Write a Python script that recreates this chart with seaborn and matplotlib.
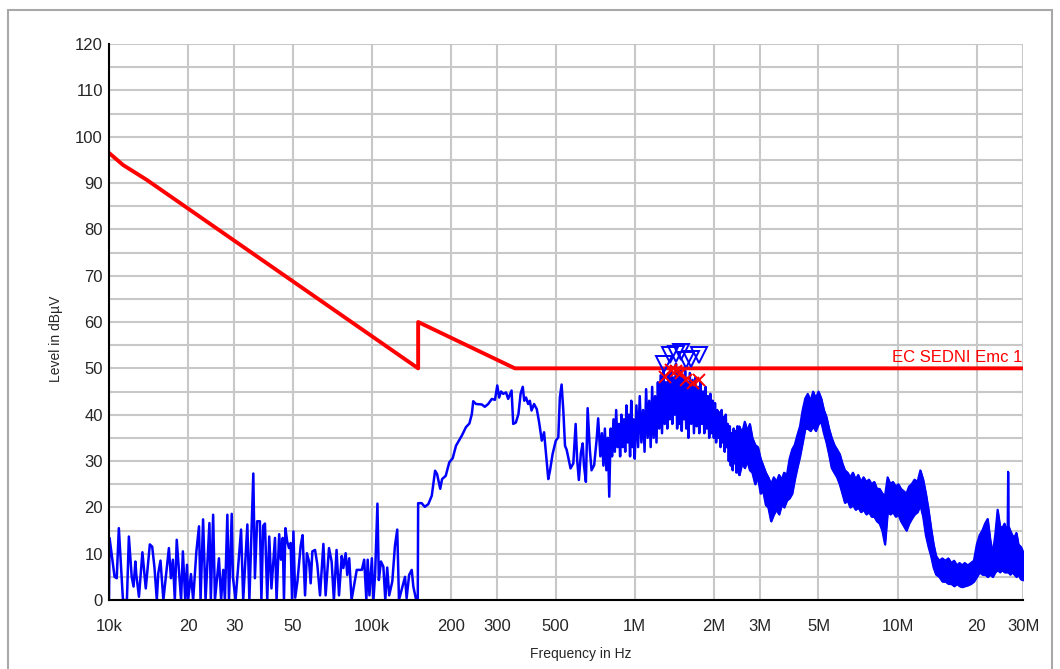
import numpy as np
import pandas as pd
import seaborn as sns
import matplotlib.pyplot as plt
from matplotlib.patches import Rectangle
from matplotlib.ticker import FixedLocator, FixedFormatter, MultipleLocator
import matplotlib.transforms as mtransforms

# limit line (Hz, dBuV)
limit_hz = [10e3, 11.3e3, 13.9e3, 150e3, 150e3, 350e3, 30e6]
limit_db = [96.5, 93.9, 90.7, 50.0, 60.0, 50.0, 50.0]

# scan 10k - 150k, noise floor spikes (kHz, dBuV)
low_khz = [10.0, 10.05, 10.5, 10.7, 10.9, 11.3, 11.7, 11.9, 12.2, 12.4, 12.6, 12.7, 13.0, 13.4, 13.8,
           14.3, 14.6, 14.9, 15.2, 15.4, 15.7, 16.1, 16.9, 17.2, 17.5, 17.8, 18.1, 18.8, 19.1, 19.5,
           19.8, 20.0, 20.5, 20.9, 21.5, 22.0, 22.3, 22.8, 23.3, 24.1, 24.4, 24.9, 25.3, 26.2, 26.7,
           27.2, 27.6, 28.2, 28.6, 29.3, 29.6, 30.3, 31.8, 32.4, 33.6, 34.2, 35.4, 35.9, 36.6, 37.5,
           38.0, 38.6, 39.2, 40.0, 40.7, 41.5, 42.8, 43.4, 44.4, 45.1, 45.8, 46.3, 46.9, 47.6, 48.4,
           49.1, 49.7, 50.3, 51.1, 52.1, 53.6, 54.5, 55.7, 56.6, 57.7, 58.5, 59.4, 60.8, 62.0, 63.5,
           65.4, 66.7, 68.7, 70.3, 71.7, 73.4, 75.0, 76.8, 77.9, 79.5, 80.6, 82.0, 83.7, 87.6, 91.6,
           93.5, 95.3, 96.4, 97.9, 100.0, 101.4, 102.9, 105.0, 106.3, 108.3, 110.6, 112.5, 114.4, 116.4,
           119.6, 122.4, 124.9, 126.8, 133.7, 135.6, 138.6, 141.8, 143.8, 146.9, 149.5]
low_db = [0, 13.4, 5, 4.7, 15.5, 0, 0, 13.7, 5, 2.9, 8.3, 5.5, 0.7, 10.3, 2.5,
          12, 11.5, 6.9, 0, 5.8, 8.5, 0, 11.2, 4.7, 8.7, 0, 13, 0, 10.5, 0,
          7.6, 0, 5.6, 0, 10.5, 15.9, 0, 17.4, 0, 16.6, 0, 18.4, 0, 9, 0,
          6.5, 0, 18.4, 0, 18.6, 5, 0, 15.2, 0, 16.3, 0, 27.3, 4.7, 17, 17,
          0, 16, 16.5, 0, 13.7, 2.5, 13.4, 0, 14.2, 8.7, 13.4, 0, 15.5, 12.7, 11.2,
          12.3, 0, 14.8, 0.5, 4, 11.7, 14, 1, 10.1, 8.3, 3.6, 10.5, 10.8, 7.7, 1,
          12.1, 1, 11.2, 8.3, 0, 10.8, 1, 9.5, 6.9, 10.1, 5.4, 9, 0, 6.5, 6.5,
          8.7, 0, 8.7, 1, 9, 0, 5.6, 20.8, 4.3, 8.3, 7.2, 0, 7, 1,
          4, 11.7, 15.2, 0, 5, 0.4, 5.4, 6.5, 2.9, 0.4, 0]

# scan 150k - 730k (kHz, dBuV)
mid_khz = [150.0, 154.7, 159, 164, 169, 174, 177, 182, 185, 191, 197, 203, 209, 220, 228,
           235, 240, 243, 249, 262, 269, 277, 286, 294, 300, 305, 310, 316, 324, 330,
           340, 345, 353, 361, 368, 375, 380, 386, 393, 399, 405, 414, 424, 433, 443,
           452, 460, 469, 476, 487, 501, 512, 519, 527, 535, 543, 551, 558, 570, 584,
           596, 604, 613, 624, 634, 641, 652, 662, 675, 685, 701, 716, 726]
mid_db = [20.9, 20.9, 20.1, 20.7, 22.5, 27.9, 27.2, 24, 26.1, 26.8, 29.7, 30.6, 33.3, 35.5, 37.3,
          38.1, 40.1, 42.9, 42.3, 42.2, 41.7, 42.3, 43.4, 43.2, 46.3, 43.7, 45, 44.5, 44.8, 43.4,
          45.2, 38, 38.3, 40.1, 44.5, 46, 43, 43.7, 42.3, 43, 40.9, 42.3, 41.2, 38.3, 34.4,
          36.2, 31.5, 26.1, 27.9, 31.5, 34.4, 35.1, 43.7, 46.5, 40.9, 33.3, 32.4, 30.9, 28.4, 29.5,
          38, 30.2, 25.9, 31.7, 33.8, 29.1, 25.5, 41.4, 32.4, 28, 29.1, 34.5, 39.2]

# scan 740k - 2.5M, dense spikes (MHz, dBuV)
peak_mhz = [0.740, 0.750, 0.760, 0.770, 0.780, 0.790, 0.800, 0.810, 0.820, 0.830, 0.840, 0.850,
            0.860, 0.870, 0.880, 0.890, 0.900, 0.910, 0.920, 0.930, 0.940, 0.950, 0.960, 0.970,
            0.980, 0.990, 1.000, 1.015, 1.030, 1.045, 1.060, 1.075, 1.090, 1.105, 1.120, 1.135,
            1.150, 1.165, 1.180, 1.195, 1.210, 1.225, 1.240, 1.255, 1.270, 1.285, 1.300, 1.315,
            1.330, 1.345, 1.360, 1.375, 1.390, 1.405, 1.420, 1.435, 1.450, 1.465, 1.480, 1.495,
            1.510, 1.525, 1.540, 1.555, 1.570, 1.585, 1.600, 1.620, 1.640, 1.660, 1.680, 1.700,
            1.720, 1.740, 1.760, 1.780, 1.800, 1.820, 1.840, 1.860, 1.880, 1.900, 1.920, 1.940,
            1.960, 1.980, 2.000, 2.020, 2.040, 2.060, 2.080, 2.100, 2.120, 2.140, 2.160, 2.180,
            2.200, 2.220, 2.240, 2.260, 2.280, 2.300, 2.320, 2.340, 2.360, 2.380, 2.400, 2.420,
            2.440, 2.460, 2.480, 2.500]
peak_db = [31, 36, 29, 37, 28, 35, 22.3, 37, 31, 39, 32, 41,
           33, 38, 31, 40, 33, 39, 32, 42, 34, 40, 31, 43,
           33, 39, 30.5, 42, 33, 44, 34, 41, 32, 45.5, 35, 43,
           33, 46, 35, 44, 34, 47, 37, 48.5, 36, 50, 38, 47,
           37, 49, 39, 50.5, 38, 48, 40, 51, 37, 49.5, 38, 50,
           36.5, 48, 39, 49.5, 37, 47, 35, 49, 38, 47.5, 36, 48,
           37.5, 46, 36, 47, 38, 45, 36, 46, 37, 44, 35, 44.5,
           36, 43, 35, 42.5, 34, 41, 35, 40.5, 33, 41, 34, 39.5,
           32, 40, 33, 38, 30, 37.5, 29, 36, 28, 37, 29.5, 36.5,
           27.5, 37.5, 28, 27]

# scan 2.5M - 30M, envelope of the dense band (MHz, dBuV)
band_mhz = [2.50, 2.56, 2.62, 2.68, 2.74, 2.80, 2.87, 2.94, 3.01, 3.08, 3.15, 3.22, 3.30, 3.38,
            3.46, 3.54, 3.62, 3.70, 3.79, 3.88, 3.97, 4.06, 4.15, 4.25, 4.35, 4.45, 4.55, 4.66,
            4.77, 4.88, 5.00, 5.12, 5.24, 5.36, 5.48, 5.61, 5.74, 5.88, 6.02, 6.16, 6.30, 6.45,
            6.60, 6.76, 6.92, 7.08, 7.25, 7.42, 7.60, 7.78, 7.96, 8.15, 8.34, 8.54, 8.74, 8.95,
            9.16, 9.38, 9.60, 9.83, 10.06, 10.3, 10.55, 10.8, 11.05, 11.3, 11.6, 11.9, 12.2, 12.5,
            12.8, 13.1, 13.4, 13.7, 14.0, 14.4, 14.8, 15.2, 15.6, 16.0, 16.4, 16.8, 17.2, 17.6,
            18.0, 18.5, 19.0, 19.5, 20.0, 20.5, 21.0, 21.5, 22.0, 22.5, 23.0, 23.5, 24.0, 24.5,
            25.0, 25.5, 26.0, 26.2, 26.3, 26.4, 26.8, 27.3, 27.8, 28.3, 28.8, 29.4, 30.0]
band_top = [37.5, 36.0, 38.5, 36.5, 38.0, 35.0, 33.5, 33.0, 30.5, 29.0, 27.5, 26.5, 25.0, 26.5,
            25.5, 27.0, 26.0, 27.5, 27.0, 30.5, 32.5, 33.5, 35.5, 37.5, 41.0, 43.5, 44.5, 43.0,
            45.0, 43.5, 45.0, 43.5, 41.0, 39.5, 37.0, 35.0, 33.5, 32.5, 31.5, 29.5, 28.0, 27.5,
            26.5, 27.5, 26.0, 27.0, 25.5, 26.5, 25.5, 26.0, 25.0, 25.5, 24.0, 24.0, 23.0, 22.5,
            26.5, 25.0, 25.5, 24.5, 25.0, 24.0, 23.5, 23.0, 24.5, 25.0, 26.0, 25.5, 28.0, 26.0,
            23.0, 19.5, 15.5, 12.0, 9.5, 8.5, 9.0, 8.5, 9.0, 8.0, 8.5, 7.5, 8.0, 7.5,
            8.0, 7.5, 8.0, 8.5, 12.0, 14.0, 15.0, 16.5, 17.5, 13.0, 10.0, 14.0, 19.5, 16.0,
            15.5, 16.5, 15.0, 16.0, 27.7, 16.0, 15.0, 14.0, 13.5, 14.5, 12.0, 11.5, 10.5]
band_bot = [27.0, 29.5, 28.5, 30.0, 28.0, 27.5, 25.0, 26.5, 23.0, 23.5, 20.5, 20.0, 17.0, 18.5,
            19.5, 18.5, 20.5, 20.0, 21.5, 22.0, 23.0, 26.0, 28.5, 31.0, 34.0, 37.0, 37.0, 36.5,
            37.5, 36.5, 38.0, 38.5, 36.0, 34.0, 31.5, 28.5, 27.5, 26.5, 25.0, 23.0, 21.0, 21.5,
            20.0, 20.5, 19.5, 20.0, 19.0, 19.5, 18.5, 19.0, 18.0, 18.0, 17.0, 16.5, 15.0, 12.0,
            19.0, 18.5, 19.0, 18.0, 18.5, 17.0, 16.0, 15.0, 16.5, 17.5, 18.5, 19.0, 20.5, 18.0,
            14.0, 11.5, 9.5, 7.0, 5.5, 5.0, 4.0, 4.0, 3.5, 3.5, 3.0, 3.5, 3.0, 2.8,
            3.0, 3.2, 3.5, 4.0, 5.0, 6.0, 5.5, 5.5, 5.0, 5.5, 5.0, 6.0, 6.5, 6.0,
            6.5, 6.0, 6.0, 6.0, 6.0, 6.0, 5.5, 6.0, 5.5, 5.0, 5.5, 4.5, 4.3]

# peak markers (MHz, dBuV)
pk_mhz = [1.29, 1.36, 1.43, 1.50, 1.57, 1.64, 1.75]
pk_db = [51.0, 52.8, 53.1, 53.5, 51.8, 52.0, 52.9]
qp_mhz = [1.30, 1.37, 1.44, 1.50, 1.57, 1.66, 1.76]
qp_db = [48.2, 49.6, 49.5, 49.0, 47.5, 46.8, 47.4]

xtick_hz = [10e3, 20e3, 30e3, 50e3, 100e3, 200e3, 300e3, 500e3,
            1e6, 2e6, 3e6, 5e6, 10e6, 20e6, 30e6]
xtick_lbl = ['10k', '20', '30', '50', '100k', '200', '300', '500',
             '1M', '2M', '3M', '5M', '10M', '20', '30M']

sns.set_style('white')
plt.rcParams['font.family'] = ['Liberation Sans', 'DejaVu Sans']

trace = pd.DataFrame({
    'hz': [f * 1e3 for f in low_khz] + [f * 1e3 for f in mid_khz] + [f * 1e6 for f in peak_mhz],
    'db': low_db + mid_db + peak_db,
})
band = pd.DataFrame({'hz': [f * 1e6 for f in band_mhz], 'top': band_top, 'bot': band_bot})

fig = plt.figure(figsize=(10.6, 6.69), dpi=100)
ax = fig.add_axes([109 / 1060, 1 - 600 / 669, 914 / 1060, 556 / 669])
fig.patches.append(Rectangle((8 / 1060, -0.1), 1044 / 1060, 1.1 - 10 / 669,
                             transform=fig.transFigure, fill=False, ec='#a8a8a8', lw=1.5))

blue = '#0000ff'
sns.lineplot(data=trace, x='hz', y='db', estimator=None, sort=False, color=blue, lw=1.8, ax=ax)
ax.fill_between(band['hz'], band['top'], band['bot'], color=blue, lw=1.2)
sns.lineplot(data=band, x='hz', y='top', estimator=None, sort=False, color=blue, lw=1.4, ax=ax)
sns.lineplot(data=band, x='hz', y='bot', estimator=None, sort=False, color=blue, lw=1.4, ax=ax)

sns.lineplot(x=limit_hz, y=limit_db, estimator=None, sort=False, color='#ff0000', lw=2.8, ax=ax)

sns.lineplot(x=[f * 1e6 for f in pk_mhz], y=pk_db, estimator=None, sort=False, ax=ax,
             linestyle='', marker='v', ms=11, mfc='none', mec=blue, mew=1.4)
sns.lineplot(x=[f * 1e6 for f in qp_mhz], y=qp_db, estimator=None, sort=False, ax=ax,
             linestyle='', marker='x', ms=9, mec='#ff0000', mew=1.4)

ax.set_xscale('log')
ax.set_xlim(10e3, 30e6)
ax.set_ylim(0, 120)
ax.xaxis.set_major_locator(FixedLocator(xtick_hz))
ax.xaxis.set_major_formatter(FixedFormatter(xtick_lbl))
ax.xaxis.set_minor_locator(FixedLocator([]))
ax.yaxis.set_major_locator(MultipleLocator(10))
ax.yaxis.set_minor_locator(MultipleLocator(5))

ax.grid(True, which='both', color='#c8c8c8', lw=1.5)
ax.set_axisbelow(True)
for s in ['top', 'right']:
    ax.spines[s].set_visible(False)
for s in ['left', 'bottom']:
    ax.spines[s].set_color('black')
    ax.spines[s].set_linewidth(1.5)
ax.tick_params(axis='both', which='both', direction='inout', length=8, width=1.5, color='black')
ax.tick_params(axis='x', labelsize=12, pad=10)
ax.tick_params(axis='y', labelsize=12, pad=0.5)

ax.set_xlabel('Frequency in Hz', fontsize=10)
ax.set_ylabel('Level in dBµV', fontsize=10)
ax.xaxis.set_label_coords(0.516, -0.085)
ax.yaxis.set_label_coords(-0.050, 0.47)

trans = mtransforms.blended_transform_factory(ax.transAxes, ax.transData)
ax.text(0.999, 50.7, 'EC SEDNI Emc 1', transform=trans, ha='right', va='bottom',
        color='#ff0000', fontsize=12)

fig.savefig('out.png', dpi=100)
